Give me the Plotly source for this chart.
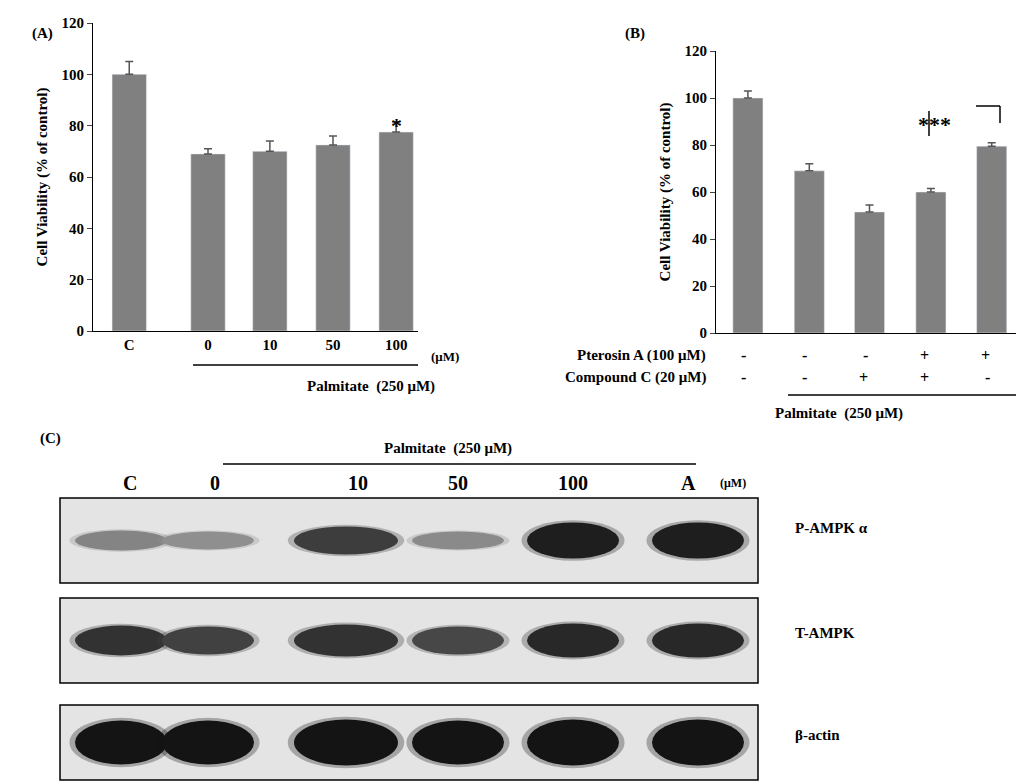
import plotly.graph_objects as go

W, H = 1024, 783
FONT = "Liberation Serif"
BAR = "#808080"

# ---- data ----
a_labels = ["C", "0", "10", "50", "100"]
a_values = [100, 69, 70, 72.5, 77.5]
a_errors = [5, 2, 4, 3.5, 4]

b_values = [100, 69, 51.5, 60, 79.5]
b_errors = [3, 3, 3, 1.5, 1.5]
pterosin = ["-", "-", "-", "+", "+"]
compound = ["-", "-", "+", "+", "-"]

lanes = ["C", "0", "10", "50", "100", "A"]
blot_rows = ["P-AMPK α", "T-AMPK", "β-actin"]
band_intensity = [
    [0.45, 0.40, 0.80, 0.42, 0.95, 0.95],
    [0.85, 0.78, 0.85, 0.75, 0.90, 0.90],
    [1.00, 1.00, 1.00, 1.00, 1.00, 1.00],
]

# ---- layout helpers (pixels -> paper) ----
def px(x):
    return x / W

def py(y):
    return 1 - y / H

a_pos = [0.58, 1.84, 2.83, 3.84, 4.85]
b_pos = [0.53, 1.55, 2.55, 3.57, 4.58]
lane_x = [113, 200, 338, 450, 565, 690]
row_box = [(490, 575), (590, 675), (697, 772)]
band_h = [[20, 18, 28, 18, 36, 36], [30, 28, 32, 28, 34, 34], [44, 44, 46, 44, 46, 46]]

fig = go.Figure()
fig.add_bar(x=a_pos, y=a_values, width=0.55, marker_color=BAR,
            error_y=dict(type="data", array=a_errors, arrayminus=[0] * 5, symmetric=False,
                         color="#555", thickness=1.5, width=4),
            xaxis="x", yaxis="y")
fig.add_bar(x=b_pos, y=b_values, width=0.5, marker_color=BAR,
            error_y=dict(type="data", array=b_errors, arrayminus=[0] * 5, symmetric=False,
                         color="#555", thickness=1.5, width=4),
            xaxis="x2", yaxis="y2")

axis_font = dict(family=FONT, size=15, color="black")
fig.update_layout(
    width=W, height=H, margin=dict(l=0, r=0, t=0, b=0, autoexpand=False),
    paper_bgcolor="white", plot_bgcolor="rgba(0,0,0,0)", showlegend=False,
    font=dict(family=FONT, color="black"),
    xaxis=dict(domain=[px(85), px(410)], range=[0, 5.2], tickvals=a_pos,
               ticktext=["<b>%s</b>" % t for t in a_labels], automargin=False,
               showline=True, linecolor="black", ticks="", tickfont=axis_font),
    yaxis=dict(domain=[py(323), py(15)], range=[0, 120], dtick=20, showline=True,
               linecolor="black", ticks="outside", ticklen=5, showgrid=False,
               tickfont=axis_font, zeroline=False, automargin=False, tickprefix="<b>", ticksuffix="</b>",
               title=dict(text="<b>Cell Viability (% of control)</b>", font=axis_font, standoff=10)),
    xaxis2=dict(domain=[px(708), px(1015)], range=[0, 5.1], showticklabels=False, automargin=False,
                showline=True, linecolor="black", ticks="", anchor="y2"),
    yaxis2=dict(domain=[py(325), py(43)], range=[0, 120], dtick=20, showline=True,
                linecolor="black", ticks="outside", ticklen=5, showgrid=False,
                tickfont=axis_font, zeroline=False, anchor="x2", automargin=False,
                tickprefix="<b>", ticksuffix="</b>",
                title=dict(text="<b>Cell Viability (% of control)</b>", font=axis_font, standoff=10)),
    xaxis3=dict(domain=[0, 1], range=[0, W], visible=False, anchor="y3", automargin=False),
    yaxis3=dict(domain=[0, 1], range=[H, 0], visible=False, anchor="x3", automargin=False),
)

shapes, ann = [], []

def text(x, y, s, size=15, **kw):
    ann.append(dict(x=px(x), y=py(y), xref="paper", yref="paper", text="<b>%s</b>" % s,
                    showarrow=False, font=dict(family=FONT, size=size, color="black"), **kw))

def line(x0, y0, x1, y1, w=1.5):
    shapes.append(dict(type="line", xref="paper", yref="paper", x0=px(x0), y0=py(y0),
                       x1=px(x1), y1=py(y1), line=dict(color="black", width=w)))

# panel A annotations
text(22, 15, "(A)")
text(437, 348, "(μM)", size=13)
line(185, 357, 410, 357)
text(297, 378, "Palmitate  (250 μM)")
text(a_pos[4] * 62.5 + 85, 103, "*", size=22)

# panel B annotations
text(627, 15, "(B)")
text(700, 347, "Pterosin A (100 μM)", xanchor="right")
text(700, 369, "Compound C (20 μM)", xanchor="right")
for i, p in enumerate(b_pos):
    xp = 708 + p * 307 / 5.1
    text(xp, 347, pterosin[i], size=16)
    text(xp, 369, compound[i], size=16)
line(780, 387, 1015, 387)
text(897, 405, "Palmitate  (250 μM)")
line(921, 103, 921, 128)
line(968, 98, 992, 98)
line(992, 98, 992, 115)
text(945, 102, "***", size=22)

# panel C
text(30, 430, "(C)")
text(440, 440, "Palmitate  (250 μM)")
line(215, 456, 688, 456)
for lx, lab in zip(lane_x, lanes):
    text(lx, 475, lab, size=20)
text(740, 475, "(μM)", size=12)
for r, (y0, y1) in enumerate(row_box):
    shapes.append(dict(type="rect", xref="x3", yref="y3", x0=52, x1=750, y0=y0, y1=y1,
                       fillcolor="#e4e4e4", line=dict(color="black", width=1.5), layer="below"))
    yc = (y0 + y1) / 2
    for i, lx in enumerate(lane_x):
        v = band_intensity[r][i]
        h = band_h[r][i]
        g = int(225 - 205 * v)
        hw = 46 if i != 2 else 52
        for k, op in [(1.12, 0.3), (1.0, 1.0)]:
            shapes.append(dict(type="circle", xref="x3", yref="y3",
                               x0=lx - hw * k, x1=lx + hw * k, y0=yc - h / 2 * k, y1=yc + h / 2 * k,
                               fillcolor="rgb(%d,%d,%d)" % (g, g, g), opacity=op,
                               line=dict(width=0)))
    text(785, yc + (-3 if r == 0 else 2), blot_rows[r], xanchor="left")

fig.update_layout(shapes=shapes, annotations=ann)
fig.write_html("out.html")
